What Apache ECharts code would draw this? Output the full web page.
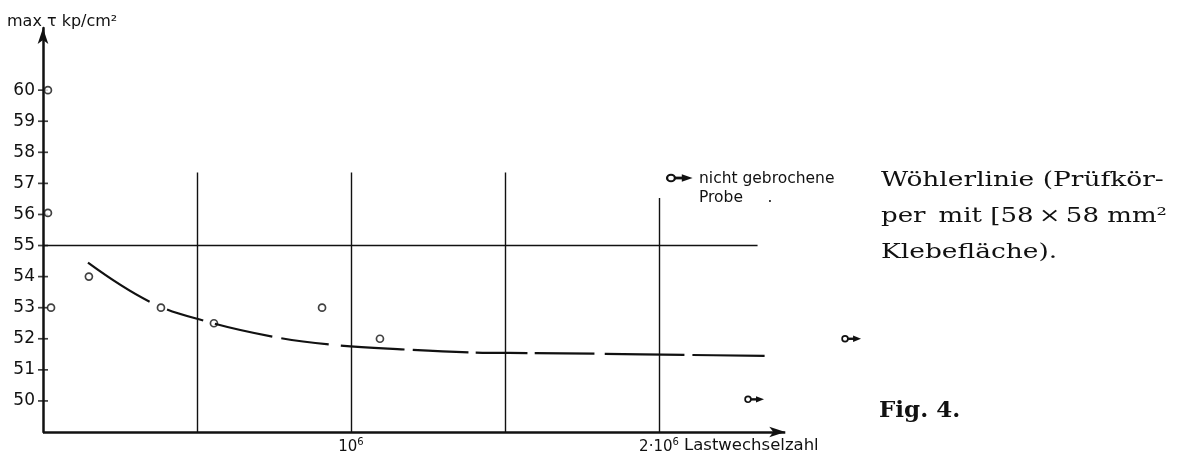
<!DOCTYPE html>
<html>
<head>
<meta charset="utf-8">
<script src="https://cdn.jsdelivr.net/npm/echarts@6.0.0/dist/echarts.min.js"></script>
<style>
  html, body { margin: 0; padding: 0; background: #fff; }
  #chart { width: 1179px; height: 458px; }
</style>
</head>
<body>
<div id="chart"></div>
<script>
// Load cycles are given in units of 10^6, stress max τ in kp/cm².
const yTickValues = [50, 51, 52, 53, 54, 55, 56, 57, 58, 59, 60];

// Broken specimens (open circles)
const brokenCycles = [0.016, 0.016, 0.026, 0.149, 0.383, 0.555, 0.906, 1.094];
const brokenStress = [60, 56.05, 53, 54, 53, 52.5, 53, 52];

// Specimens that did not break (circle with arrow)
const runoutCycles = [2.604, 2.289];
const runoutStress = [52, 50.05];

// Fitted Wöhler curve (long dashes)
const curveCycles = [0.146, 0.347, 0.523, 0.750, 0.935, 1.182, 1.390, 1.581, 1.799, 2.091, 2.351];
const curveStress = [54.45, 53.19, 52.58, 52.06, 51.81, 51.65, 51.56, 51.54, 51.52, 51.48, 51.45];

// Vertical guide lines and their upper ends
const guideCycles = [0.5, 1, 1.5, 2];
const guideTops = [57.35, 57.35, 57.35, 56.53];

// Horizontal reference level
const refStress = 55;
const refEnd = 2.32;

// x-axis arrow end
const xAxisEnd = 2.41;

const xTickLabels = { 1: '{b|10}{s|6}', 2: '{b|2·10}{s|6}' };

const INK = '#111';
const SANS = '"DejaVu Sans", sans-serif';
const SERIF = '"DejaVu Serif", serif';

// irregular dash lengths of the hand-drawn curve
const curveDash = [73, 19, 38, 12, 59, 9, 48, 12, 64, 8, 56, 7, 52, 7, 60, 10, 80, 8, 72, 20];

const chart = echarts.init(document.getElementById('chart'), null, { renderer: 'canvas' });

function runoutShape(cx, cy) {
  return [
    { type: 'circle', shape: { cx: cx, cy: cy, r: 2.9 }, style: { fill: '#fff', stroke: INK, lineWidth: 1.7 } },
    { type: 'line', shape: { x1: cx + 3, y1: cy, x2: cx + 10, y2: cy }, style: { stroke: INK, lineWidth: 2.4 } },
    { type: 'polygon', shape: { points: [[cx + 8, cy - 3.2], [cx + 16, cy], [cx + 8, cy + 3.2]] }, style: { fill: INK } }
  ];
}

const guideLines = guideCycles.map((x, i) => [
  { coord: [x, 49] }, { coord: [x, guideTops[i]] }
]);

function serifLine(text, y, sx) {
  return {
    type: 'text', x: 881, y: y, scaleX: sx,
    style: { x: 0, y: 0, text: text, font: '21px ' + SERIF, fill: INK, verticalAlign: 'middle' }
  };
}

chart.setOption({
  animation: false,
  backgroundColor: '#fff',
  grid: { left: 43, right: 273.6, top: 28, bottom: 26 },
  xAxis: {
    type: 'value', min: 0, max: 2.8, interval: 0.5,
    axisLine: { show: false }, axisTick: { show: false }, splitLine: { show: false },
    axisLabel: {
      margin: 5,
      formatter: v => xTickLabels[v] || '',
      rich: {
        b: { fontFamily: SANS, fontSize: 15, color: INK, verticalAlign: 'bottom', lineHeight: 18 },
        s: { fontFamily: SANS, fontSize: 10, color: INK, verticalAlign: 'top', lineHeight: 18, padding: [0, 0, 6, 0] }
      }
    }
  },
  yAxis: {
    type: 'value', min: 49, max: 62, interval: 1,
    name: 'max τ kp/cm²', nameLocation: 'end', nameGap: -2,
    nameTextStyle: { fontFamily: SANS, fontSize: 16, color: INK, align: 'left', padding: [0, 0, 0, -36] },
    axisLine: { show: true, symbol: ['none', 'arrow'], symbolSize: [8, 16], lineStyle: { color: INK, width: 2.5 } },
    axisTick: { show: false }, splitLine: { show: false },
    axisLabel: {
      margin: 8, fontFamily: SANS, fontSize: 17, color: INK,
      formatter: v => (yTickValues.indexOf(v) >= 0 ? String(v) : '')
    }
  },
  series: [
    {
      // axis ticks, x-axis line with arrow, reference level and guide lines
      type: 'scatter', silent: true,
      symbol: 'rect', symbolSize: [10, 1.7],
      itemStyle: { color: INK },
      data: yTickValues.map(v => [0, v]),
      markLine: {
        silent: true, symbol: 'none', label: { show: false },
        lineStyle: { color: INK, width: 1.4, type: 'solid' },
        data: [
          [{ coord: [0, refStress] }, { coord: [refEnd, refStress] }],
          ...guideLines,
          [{ coord: [0, 49], symbol: 'none', lineStyle: { width: 2.5 } },
           { coord: [xAxisEnd, 49], symbol: 'arrow', symbolSize: [8, 16], symbolRotate: -90, lineStyle: { width: 2.5 } }]
        ]
      }
    },
    {
      type: 'line', silent: true, smooth: 0.4, showSymbol: false,
      lineStyle: { color: INK, width: 2.2, type: curveDash },
      data: curveCycles.map((x, i) => [x, curveStress[i]])
    },
    {
      type: 'scatter', silent: true,
      symbol: 'circle', symbolSize: 7,
      itemStyle: { color: '#fff', borderColor: INK, borderWidth: 1.7 },
      data: brokenCycles.map((x, i) => [x, brokenStress[i]])
    },
    {
      type: 'custom', silent: true, clip: false,
      renderItem: (params, api) => {
        const p = api.coord([api.value(0), api.value(1)]);
        return { type: 'group', children: runoutShape(p[0], p[1]) };
      },
      data: runoutCycles.map((x, i) => [x, runoutStress[i]])
    }
  ],
  graphic: [
    { type: 'group', x: 671, y: 178, scaleX: 1.35, scaleY: 1.15, children: runoutShape(0, 0) },
    { type: 'text', style: { x: 699, y: 179, text: 'nicht gebrochene', font: '15.5px ' + SANS, fill: INK, verticalAlign: 'middle' } },
    { type: 'text', style: { x: 699, y: 198, text: 'Probe     .', font: '15.5px ' + SANS, fill: INK, verticalAlign: 'middle' } },
    { type: 'text', style: { x: 684, y: 446, text: 'Lastwechselzahl', font: '16.5px ' + SANS, fill: INK, verticalAlign: 'middle' } },
    serifLine('Wöhlerlinie (Prüfkör-', 181, 1.26),
    serifLine('per\u2002mit [58\u2009×\u200958 mm²', 217, 1.24),
    serifLine('Klebefläche).', 253, 1.26),
    { type: 'text', x: 879, y: 411, style: { x: 0, y: 0, text: 'Fig. 4.', font: 'bold 23px ' + SERIF, fill: INK, verticalAlign: 'middle' } }
  ]
});
</script>
</body>
</html>
